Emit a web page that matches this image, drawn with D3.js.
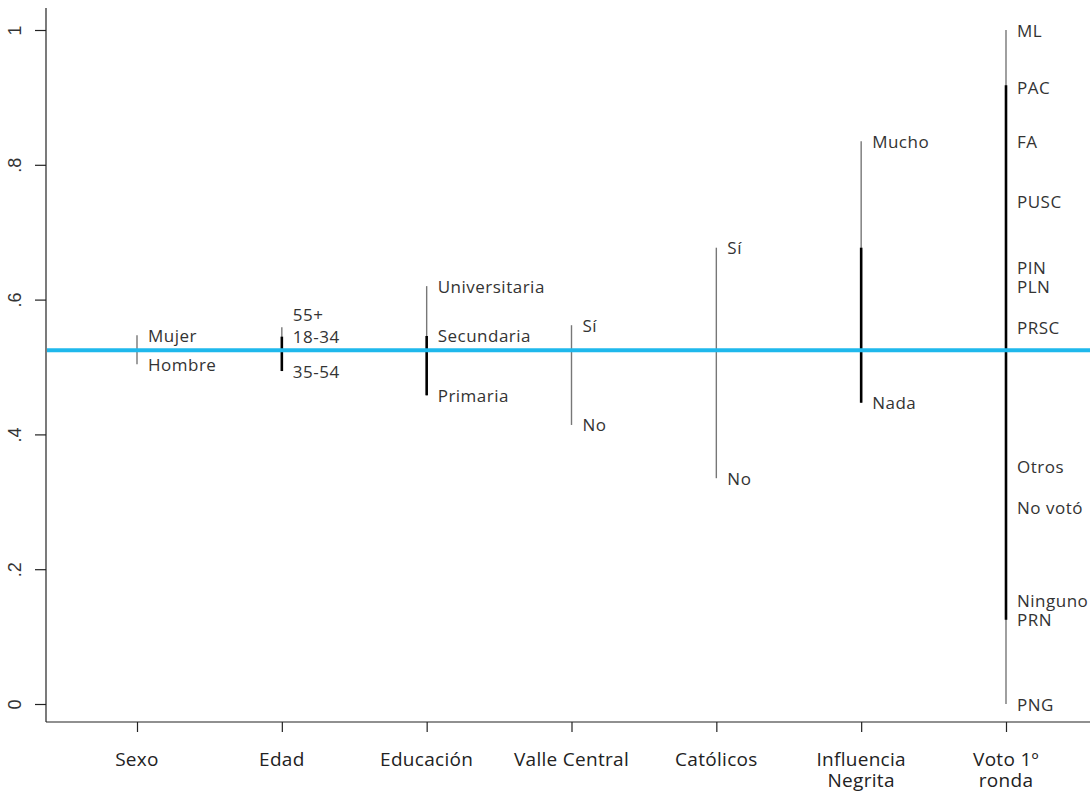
<!DOCTYPE html>
<html>
<head>
<meta charset="utf-8">
<script src="https://cdn.jsdelivr.net/npm/d3@7"></script>
<style>
  body { margin: 0; background: #fff; }
  svg { display: block; }
  .lbl { font-family: "Open Sans", sans-serif; font-size: 17px; letter-spacing: 0.5px; fill: #333; }
  .xlbl { font-family: "Open Sans", sans-serif; font-size: 19px; letter-spacing: 0.3px; fill: #222; }
  .ytick { font-family: "Liberation Sans", Arial, sans-serif; font-size: 18px; fill: #333; }
</style>
</head>
<body>
<div id="chart"></div>
<script>
// grupos del eje x (con saltos de línea)
const groups = ['Sexo', 'Edad', 'Educación', 'Valle Central', 'Católicos', 'Influencia Negrita', 'Voto 1º ronda']
const groupLines = [['Sexo'], ['Edad'], ['Educación'], ['Valle Central'], ['Católicos'], ['Influencia', 'Negrita'], ['Voto 1º', 'ronda']]

// categorías y su proporción por grupo
const sexo = [['Mujer', 0.547], ['Hombre', 0.504]]
const edad = [['55+', 0.559], ['18-34', 0.545], ['35-54', 0.494]]
const educacion = [['Universitaria', 0.620], ['Secundaria', 0.546], ['Primaria', 0.458]]
const valle = [['Sí', 0.562], ['No', 0.414]]
const catolicos = [['Sí', 0.677], ['No', 0.335]]
const negrita = [['Mucho', 0.835], ['Nada', 0.447]]
const voto = [['ML', 1.0], ['PAC', 0.914], ['FA', 0.835], ['PUSC', 0.746], ['PIN', 0.647], ['PLN', 0.619],
  ['PRSC', 0.559], ['Otros', 0.353], ['No votó', 0.292], ['Ninguno', 0.153], ['PRN', 0.125], ['PNG', 0.0]]

// tramo central (línea gruesa), null si no hay
const middle = [null, [0.494, 0.545], [0.458, 0.546], null, null, [0.447, 0.677], [0.125, 0.918]]

const overallMean = 0.525
const yTicks = [0, 0.2, 0.4, 0.6, 0.8, 1]
const yTickLabels = ['0', '.2', '.4', '.6', '.8', '1']

const width = 1090, height = 793
const cats = [sexo, edad, educacion, valle, catolicos, negrita, voto]

const svg = d3.select('#chart').append('svg')
  .attr('width', width)
  .attr('height', height)

const y = d3.scaleLinear().domain([0, 1]).range([704, 30])
const x = d3.scalePoint().domain(groups).range([137, 1006])
const axisX0 = 46, axisY0 = 722

// eje y
const yAxis = d3.axisLeft(y).tickValues(yTicks).tickSize(11).tickFormat((d, i) => yTickLabels[i])
const gy = svg.append('g').attr('transform', 'translate(' + axisX0 + ',0)').call(yAxis)
gy.select('.domain').remove()
gy.selectAll('.tick line').attr('stroke', '#222').attr('stroke-width', 1.2)
gy.selectAll('.tick text')
  .attr('class', 'ytick')
  .attr('x', null).attr('dy', null)
  .attr('transform', 'translate(-31,0) rotate(-90)')
  .attr('text-anchor', 'middle')
  .attr('dominant-baseline', 'central')
svg.append('line')
  .attr('x1', axisX0).attr('x2', axisX0)
  .attr('y1', 8).attr('y2', axisY0)
  .attr('stroke', '#222').attr('stroke-width', 1.2)

// eje x
const xAxis = d3.axisBottom(x).tickSize(10).tickFormat('')
const gx = svg.append('g').attr('transform', 'translate(0,' + axisY0 + ')').call(xAxis)
gx.select('.domain').remove()
gx.selectAll('.tick line').attr('stroke', '#222').attr('stroke-width', 1.2)
svg.append('line')
  .attr('x1', axisX0).attr('x2', width)
  .attr('y1', axisY0).attr('y2', axisY0)
  .attr('stroke', '#222').attr('stroke-width', 1.2)

groups.forEach(function(g, i) {
  const t = svg.append('text')
    .attr('class', 'xlbl')
    .attr('text-anchor', 'middle')
    .attr('x', x(g))
    .attr('y', 766)
  groupLines[i].forEach(function(s, j) {
    t.append('tspan').attr('x', x(g)).attr('dy', j === 0 ? 0 : 21).text(s)
  })
})

// rango completo (gris fino)
groups.forEach(function(g, i) {
  const ext = d3.extent(cats[i], d => d[1])
  svg.append('line')
    .attr('x1', x(g)).attr('x2', x(g))
    .attr('y1', y(ext[0])).attr('y2', y(ext[1]))
    .attr('stroke', '#777').attr('stroke-width', 1.4)
})

// tramo central (negro grueso)
groups.forEach(function(g, i) {
  if (!middle[i]) return
  svg.append('line')
    .attr('x1', x(g)).attr('x2', x(g))
    .attr('y1', y(middle[i][0])).attr('y2', y(middle[i][1]))
    .attr('stroke', '#000').attr('stroke-width', 2.6)
})

// media general
svg.append('line')
  .attr('x1', axisX0 + 1).attr('x2', width)
  .attr('y1', y(overallMean)).attr('y2', y(overallMean))
  .attr('stroke', '#1fb8ec').attr('stroke-width', 4)

// etiquetas: las que casi coinciden se separan hacia arriba
groups.forEach(function(g, i) {
  const items = cats[i].map(d => ({ name: d[0], py: y(d[1]) })).sort((a, b) => b.py - a.py)
  for (let k = 1; k < items.length; k++) {
    if (items[k - 1].py - items[k].py < 16) items[k].py = items[k - 1].py - 22
  }
  svg.selectAll(null)
    .data(items)
    .enter()
    .append('text')
    .attr('class', 'lbl')
    .attr('x', x(g) + 11)
    .attr('y', d => d.py)
    .attr('dominant-baseline', 'central')
    .text(d => d.name)
})
</script>
</body>
</html>
